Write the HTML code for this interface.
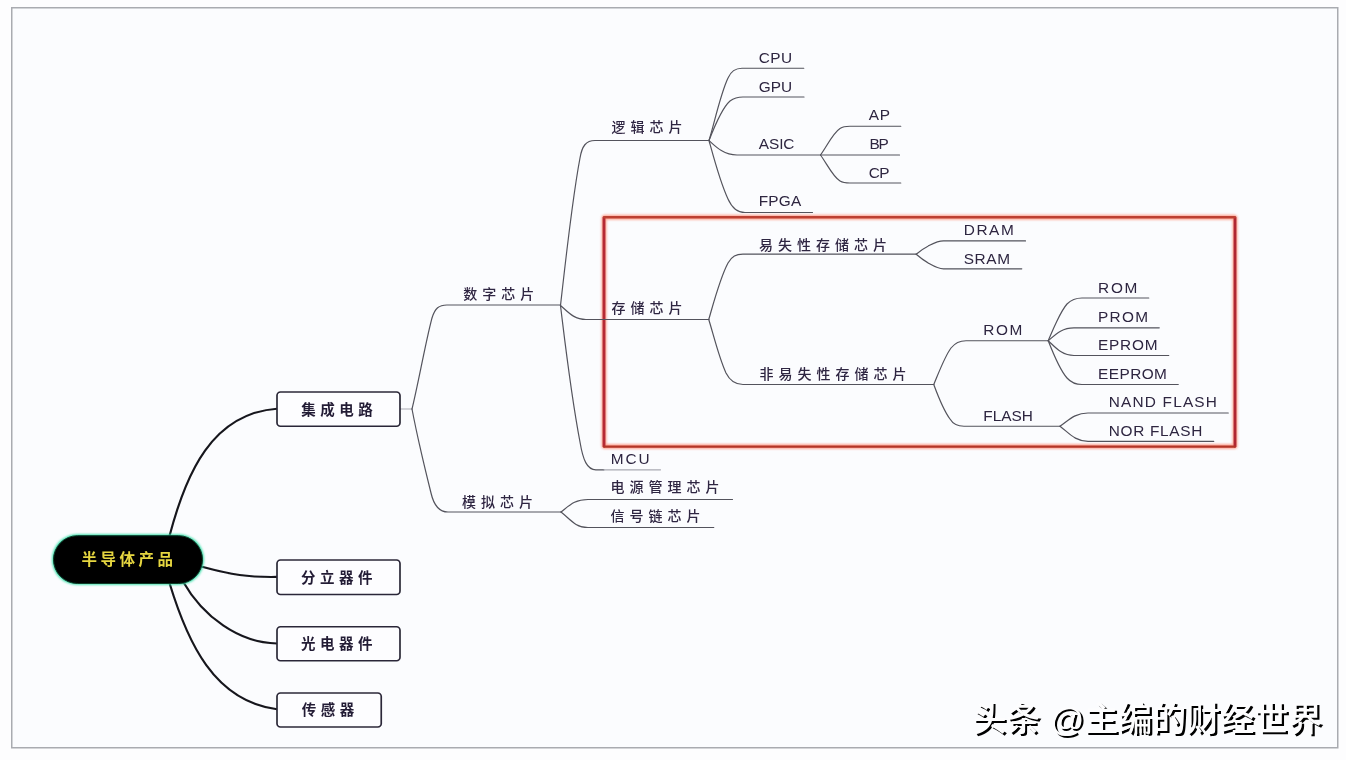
<!DOCTYPE html>
<html lang="zh-CN">
<head>
<meta charset="utf-8">
<title>半导体产品 思维导图</title>
<style>
html,body{margin:0;padding:0;background:#fff;}
body{width:1346px;height:760px;overflow:hidden;}
svg{display:block;}
.thin{fill:none;stroke:#53535c;stroke-width:1.2;stroke-linecap:round;}
.thick{fill:none;stroke:#15151c;stroke-width:2.15;stroke-linecap:round;}
.box{fill:#fdfdff;stroke:#2b2838;stroke-width:1.7;}
.ct{font-family:"Liberation Sans", "Noto Sans CJK SC", sans-serif;font-size:14px;font-weight:500;fill:#2f2542;}
.cb{font-family:"Liberation Sans", "Noto Sans CJK SC", sans-serif;font-size:14.5px;font-weight:700;fill:#241c36;}
.lt{font-family:"Liberation Sans", sans-serif;font-size:14px;fill:#2d2540;}
.wm{font-family:"Liberation Sans", "Noto Sans CJK SC", sans-serif;font-size:34px;font-weight:500;}
</style>
</head>
<body>
<svg width="1346" height="760" viewBox="0 0 1346 760">
<defs>
<filter id="soft" x="-5%" y="-5%" width="110%" height="110%"><feGaussianBlur stdDeviation="0.45"/></filter>
<filter id="glow" x="-20%" y="-40%" width="140%" height="180%"><feGaussianBlur stdDeviation="1.3"/></filter>
<filter id="rglow" x="-5%" y="-5%" width="110%" height="110%"><feGaussianBlur stdDeviation="1.2"/></filter>
</defs>
<rect x="0" y="0" width="1346" height="760" fill="#fdfdfe"/>
<rect x="11.75" y="7.75" width="1326" height="740" fill="#fbfcfe" stroke="#a9abb0" stroke-width="1.5"/>
<g filter="url(#soft)">
<rect x="604" y="217.2" width="631" height="229.4" rx="1" fill="none" stroke="#ff8f78" stroke-width="5" opacity="0.8" filter="url(#rglow)"/>
<g fill="none" stroke-linecap="round">
<path d="M604 217.6 V446.2" stroke="#b52a34" stroke-width="2.9"/>
<path d="M1235 217.6 V446.2" stroke="#b02832" stroke-width="2.9"/>
<path d="M604.4 217.2 H1234.6" stroke="#bd4030" stroke-width="2.4"/>
<path d="M604.4 446.6 H1234.6" stroke="#b33528" stroke-width="2.4"/>
</g>
<g class="thin">
<path d="M400 409 H412" stroke="#a9a9b2"/>
<path d="M412 409 C418 385 426 340 432 318 C435 308 439 305 447 305 H560.5"/>
<path d="M412 409 C416 430 424 465 431 493 C434 506 439 512 448 512 H561"/>
<path d="M561 512 C570 505 575 499.5 588 499.5 H732.5"/>
<path d="M561 512 C570 519 575 527.5 588 527.5 H713.75"/>
<path d="M560.5 305.5 C564 275 572 200 580 158 C582 146 586 140.5 595 140.5 H708.75"/>
<path d="M560.5 305.5 C564 335 572 400 580 442 C583 460 587 469.8 596 469.8 H604"/>
<path d="M604 469.8 H660.5" stroke="#a9a9b2"/>
<path d="M560.5 305.5 C568 312 574 319.5 586 319.5 H708.75"/>
<path d="M709 140.5 C714 125 720 95 728 78 C731 71 735 68.25 742 68.25 H803.75"/>
<path d="M709 140.5 C715 125 722 108 730 101 C734 98 737 97 743 97 H804"/>
<path d="M709 140.5 C716 147 724 155 737 155 H899.5"/>
<path d="M709 140.5 C713 155 720 182 728 199 C732 208 737 212.5 745 212.5 H812.5"/>
<path d="M820.5 155 C827 146 833 133 840 128.5 C843 126.5 846 126.25 850 126.25 H900.75"/>
<path d="M820.5 155 C827 164 833 177 840 181 C843 182.8 846 183 850 183 H900.75"/>
<path d="M708.75 319.5 C713 305 720 278 728 263 C732 256 736 254.2 743 254.2 H916.2"/>
<path d="M708.75 319.5 C713 333 719 358 726 373 C730 381 735 384.5 743 384.5 H933.75"/>
<path d="M916.2 254.2 C923 248.2 936 240.9 943.5 240.9 H1025.5"/>
<path d="M916.2 254.2 C923 260.2 936 268.85 943.5 268.85 H1021.75"/>
<path d="M933.75 384.5 C939 372 945 356 951 348 C955 343 959 340.75 966 340.75 H1048.25"/>
<path d="M933.75 384.5 C938 396 944 411 950 419 C953 424 957 426.25 964 426.25 H1060"/>
<path d="M1048.25 340.75 C1054 327 1060 312 1067 304 C1071 300 1075 298 1082 298 H1148.75"/>
<path d="M1048.25 340.75 C1056 334 1062 327.8 1074 327.8 H1159.25"/>
<path d="M1048.25 340.75 C1056 348 1062 355.5 1074 355.5 H1168.75"/>
<path d="M1048.25 340.75 C1053 353 1060 370 1067 378 C1071 382.5 1075 384.5 1082 384.5 H1178.25"/>
<path d="M1060 426.25 C1069 420 1075 413 1088 413 H1228.25"/>
<path d="M1060 426.25 C1069 433 1075 441.3 1088 441.3 H1213.75"/>
</g>
<g class="thick">
<path d="M169.5 536 C186 473 212 413.5 277 408.75"/>
<path d="M202 566.8 C231.8 574.8 247.6 577.4 277 576.9"/>
<path d="M183 581.5 C202.9 616.6 238.8 643 277 643.5"/>
<path d="M169.5 583 C187.4 641.9 213.8 700.9 277 709.3"/>
</g>
<rect class="box" x="277" y="392" width="123" height="34.25" rx="3.5" ry="3.5"/>
<rect class="box" x="277" y="560" width="123" height="34.5" rx="3.5" ry="3.5"/>
<rect class="box" x="277" y="626.75" width="123" height="34" rx="3.5" ry="3.5"/>
<rect class="box" x="277" y="693" width="104.25" height="34" rx="3.5" ry="3.5"/>
<rect x="52" y="534.2" width="152" height="50.6" rx="25.3" ry="25.3" fill="#35e0a8" filter="url(#glow)"/>
<rect x="53.5" y="535.7" width="149" height="47.8" rx="23.9" ry="23.9" fill="#020402" stroke="#0a3a28" stroke-width="1"/>
<text class="cb" x="81.5 100.5 119.5 138.5 157.5" y="564.57" style="font-size:15.5px;fill:#e6d640">半导体产品</text>
<text class="cb" x="301.25 320.25 339.25 358.25" y="415.13">集成电路</text>
<text class="cb" x="301 320 339 358" y="582.88">分立器件</text>
<text class="cb" x="301 320 339 358" y="649.13">光电器件</text>
<text class="cb" x="301.75 320.75 339.75" y="715.38">传感器</text>
<text class="ct" x="463.25 482.25 501.25 520.25" y="298.66">数字芯片</text>
<text class="ct" x="462 481 500 519" y="507.41">模拟芯片</text>
<text class="ct" x="611.5 630.5 649.5 668.5" y="132.06">逻辑芯片</text>
<text class="ct" x="611.5 630.5 649.5 668.5" y="313.16">存储芯片</text>
<text class="ct" x="610.5 629.5 648.5 667.5 686.5 705.5" y="492.41">电源管理芯片</text>
<text class="ct" x="610.5 629.5 648.5 667.5 686.5" y="521.16">信号链芯片</text>
<text class="ct" x="759 778 797 816 835 854 873" y="249.91">易失性存储芯片</text>
<text class="ct" x="759.5 778.5 797.5 816.5 835.5 854.5 873.5 892.5" y="379.16">非易失性存储芯片</text>
<text class="lt" transform="translate(758.75,63) scale(1.1,1)" letter-spacing="0.344">CPU</text>
<text class="lt" transform="translate(758.75,92) scale(1.1,1)" letter-spacing="-0.041">GPU</text>
<text class="lt" transform="translate(758.75,149.25) scale(1.1,1)" letter-spacing="-0.063">ASIC</text>
<text class="lt" transform="translate(758.75,206.25) scale(1.1,1)" letter-spacing="0.162">FPGA</text>
<text class="lt" transform="translate(868.75,120) scale(1.1,1)" letter-spacing="0.628">AP</text>
<text class="lt" transform="translate(869.5,149.25) scale(1.1,1)" letter-spacing="-1.190">BP</text>
<text class="lt" transform="translate(868.75,178) scale(1.1,1)" letter-spacing="-0.596">CP</text>
<text class="lt" transform="translate(610.75,463.75) scale(1.1,1)" letter-spacing="1.689">MCU</text>
<text class="lt" transform="translate(963.75,235) scale(1.1,1)" letter-spacing="1.408">DRAM</text>
<text class="lt" transform="translate(963.75,263.75) scale(1.1,1)" letter-spacing="0.528">SRAM</text>
<text class="lt" transform="translate(983.25,335) scale(1.1,1)" letter-spacing="1.496">ROM</text>
<text class="lt" transform="translate(983.25,420.5) scale(1.1,1)" letter-spacing="0.019">FLASH</text>
<text class="lt" transform="translate(1098,292.5) scale(1.1,1)" letter-spacing="1.610">ROM</text>
<text class="lt" transform="translate(1098,321.75) scale(1.1,1)" letter-spacing="1.152">PROM</text>
<text class="lt" transform="translate(1098,350) scale(1.1,1)" letter-spacing="0.695">EPROM</text>
<text class="lt" transform="translate(1098,379.25) scale(1.1,1)" letter-spacing="0.407">EEPROM</text>
<text class="lt" transform="translate(1108.75,407) scale(1.1,1)" letter-spacing="1.080">NAND FLASH</text>
<text class="lt" transform="translate(1108.75,435.75) scale(1.1,1)" letter-spacing="0.635">NOR FLASH</text>
</g>
<text class="wm" x="974.6" y="733" fill="#000">头条 @主编的财经世界</text>
<text class="wm" x="972.4" y="730.8" fill="#fdfdfe">头条 @主编的财经世界</text>
</svg>
</body>
</html>
